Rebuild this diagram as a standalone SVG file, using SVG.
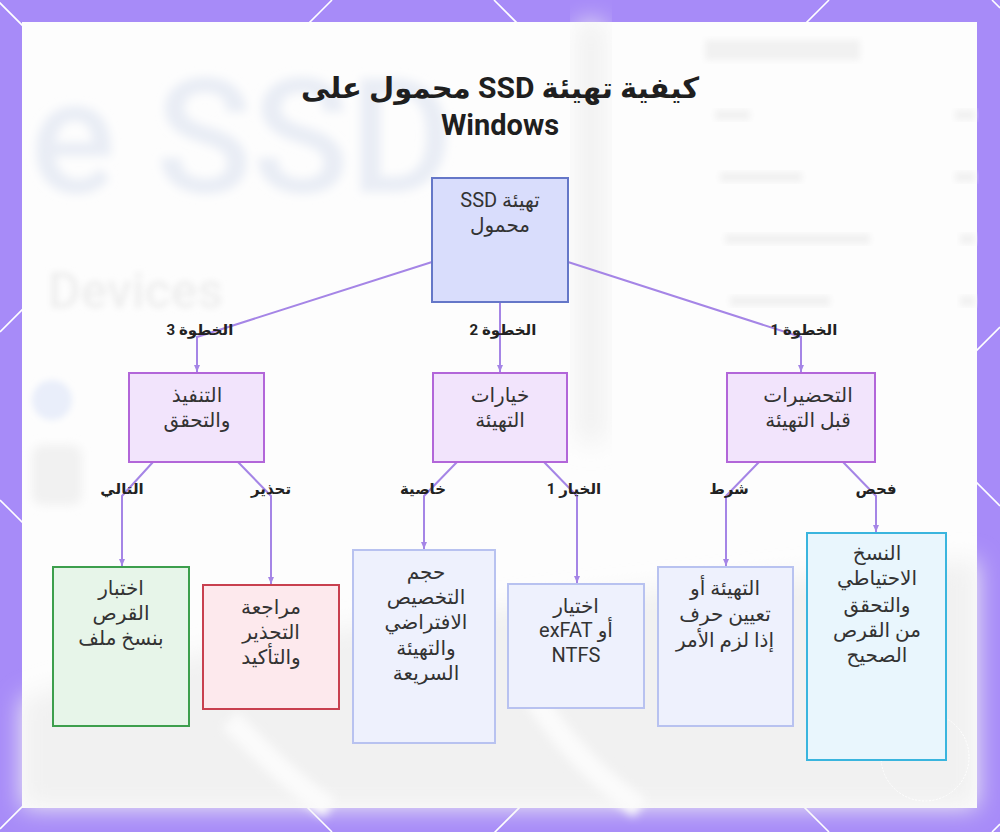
<svg xmlns="http://www.w3.org/2000/svg" width="1000" height="832" viewBox="0 0 1000 832">
<defs>
<style>
.frame{fill:#a78bf8}
.deco{stroke:#ffffff;stroke-width:1.6;fill:none}
.title{font-family:Roboto,"Noto Sans","DejaVu Sans",sans-serif;font-weight:700;font-size:29px;fill:#1f1f1f;text-anchor:middle}
.nt{font-family:Roboto,"Noto Sans","DejaVu Sans",sans-serif;font-size:20px;fill:#333333;text-anchor:middle}
.el{font-family:Roboto,"Noto Sans","DejaVu Sans",sans-serif;font-weight:700;font-size:15px;fill:#222222;text-anchor:middle}
.edge{fill:none;stroke:#a585e6;stroke-width:2;marker-end:url(#arr)}
.root{fill:#d9ddfc;stroke:#6577c8;stroke-width:2}
.mid{fill:#f2e4fc;stroke:#b266d9;stroke-width:2}
.green{fill:#e7f5e9;stroke:#3d9f4d;stroke-width:2}
.red{fill:#fde9ed;stroke:#c8404f;stroke-width:2}
.blue{fill:#eef1fd;stroke:#b8c2f0;stroke-width:2}
.cyan{fill:#e9f6fd;stroke:#3ab5de;stroke-width:2}
.bgt{font-family:Roboto,"Liberation Sans",sans-serif;font-weight:500}
.bar{fill:#f1f1f1}
</style>
<marker id="arr" markerUnits="userSpaceOnUse" markerWidth="8" markerHeight="8" refX="7" refY="4" orient="auto">
<path d="M0,1 L7,4 L0,7 z" fill="#a585e6"/>
</marker>
<filter id="blur6" x="-20%" y="-20%" width="140%" height="140%"><feGaussianBlur stdDeviation="5"/></filter>
<filter id="blur3" x="-20%" y="-20%" width="140%" height="140%"><feGaussianBlur stdDeviation="3"/></filter>
<filter id="blur12" x="-30%" y="-30%" width="160%" height="160%"><feGaussianBlur stdDeviation="12"/></filter>
</defs>

<!-- frame -->
<rect class="frame" x="0" y="0" width="1000" height="832"/>
<g class="deco">
<line x1="332" y1="0" x2="0" y2="332"/>
<line x1="0" y1="500" x2="332" y2="832"/>
<line x1="494" y1="0" x2="1000" y2="506"/>
<line x1="1000" y1="327" x2="494" y2="833"/>
<line x1="829" y1="0" x2="0" y2="829"/>
<line x1="-3" y1="0" x2="829" y2="832"/>
<line x1="992" y1="0" x2="1000" y2="8"/>
<line x1="992" y1="832" x2="1000" y2="824"/>
</g>

<!-- panel with blurred background -->
<rect x="22" y="22" width="955" height="786" fill="#fdfdfd"/>
<g id="background">
<rect x="578" y="22" width="26" height="420" fill="#f0f0f0" filter="url(#blur12)"/>
<text class="bgt" x="30" y="192" font-size="160" fill="#e9edf5" filter="url(#blur6)">e SSD</text>
<text class="bgt" x="48" y="308" font-size="50" font-weight="700" fill="#eeeeee" filter="url(#blur3)">Devices</text>
<circle cx="52" cy="400" r="20" fill="#e9eefa" filter="url(#blur3)"/>
<rect x="32" y="445" width="50" height="60" rx="10" fill="#f1f1f1" filter="url(#blur6)"/>
<rect class="bar" x="705" y="40" width="155" height="20" filter="url(#blur3)"/>
<rect class="bar" x="715" y="110" width="35" height="10" filter="url(#blur3)"/>
<rect class="bar" x="720" y="172" width="82" height="10" filter="url(#blur3)"/>
<rect class="bar" x="725" y="234" width="145" height="10" filter="url(#blur3)"/>
<rect class="bar" x="730" y="296" width="100" height="10" filter="url(#blur3)"/>
<rect class="bar" x="955" y="110" width="20" height="10" filter="url(#blur3)"/>
<rect class="bar" x="955" y="172" width="20" height="10" filter="url(#blur3)"/>
<rect class="bar" x="960" y="234" width="15" height="10" filter="url(#blur3)"/>
<rect class="bar" x="960" y="296" width="15" height="10" filter="url(#blur3)"/>
<path d="M22,700 C200,640 500,600 977,560 L977,808 L22,808 Z" fill="#f1f1f1" filter="url(#blur12)"/>
<path d="M230,720 C270,760 300,790 330,808" stroke="#fbfbfb" stroke-width="22" fill="none" filter="url(#blur6)"/>
<path d="M530,690 C560,740 600,780 640,808" stroke="#fbfbfb" stroke-width="22" fill="none" filter="url(#blur6)"/>
<circle cx="925" cy="757" r="44" fill="none" stroke="#ffffff" stroke-width="1" stroke-dasharray="2 1.5"/>
<rect x="912" y="738" width="20" height="22" rx="3" fill="none" stroke="#ffffff" stroke-width="1"/>
</g>

<!-- title -->
<g id="title">
<text class="title" x="500" y="98" direction="rtl">كيفية تهيئة <tspan font-size="30">SSD</tspan> محمول على</text>
<text class="title" x="500" y="135" font-size="33">Windows</text>
</g>

<!-- connectors -->
<g id="connectors">
<polyline class="edge" points="432,262 197,337 197,372"/>
<polyline class="edge" points="500,302 500,372"/>
<polyline class="edge" points="568,262 801,337 801,372"/>
<polyline class="edge" points="153,462 122,496 122,566"/>
<polyline class="edge" points="238,462 271,496 271,584"/>
<polyline class="edge" points="457,462 424,496 424,549"/>
<polyline class="edge" points="544,462 577,496 577,583"/>
<polyline class="edge" points="759,462 726,496 726,566"/>
<polyline class="edge" points="843,462 876,496 876,532"/>
<g id="edge-labels">
<text class="el" x="200" y="335" direction="rtl">الخطوة 3</text>
<text class="el" x="503" y="335" direction="rtl">الخطوة 2</text>
<text class="el" x="804" y="335" direction="rtl">الخطوة 1</text>
<text class="el" x="122" y="494" direction="rtl">التالي</text>
<text class="el" x="271" y="494" direction="rtl">تحذير</text>
<text class="el" x="423" y="494" direction="rtl">خاصية</text>
<text class="el" x="574" y="494" direction="rtl">الخيار 1</text>
<text class="el" x="729" y="494" direction="rtl">شرط</text>
<text class="el" x="876" y="494" direction="rtl">فحص</text>
</g>
</g>

<!-- nodes -->
<g id="root">
<rect class="root" x="432" y="178" width="136" height="124"/>
<text class="nt" x="500" y="207" direction="rtl">تهيئة SSD</text>
<text class="nt" x="500" y="232" direction="rtl">محمول</text>
</g>
<g id="step3">
<rect class="mid" x="129" y="373" width="135" height="89"/>
<text class="nt" x="197" y="402" direction="rtl">التنفيذ</text>
<text class="nt" x="197" y="427" direction="rtl">والتحقق</text>
</g>
<g id="step2">
<rect class="mid" x="433" y="373" width="134" height="89"/>
<text class="nt" x="500" y="402" direction="rtl">خيارات</text>
<text class="nt" x="500" y="427" direction="rtl">التهيئة</text>
</g>
<g id="step1">
<rect class="mid" x="727" y="373" width="148" height="89"/>
<text class="nt" x="808" y="402" direction="rtl">التحضيرات</text>
<text class="nt" x="808" y="427" direction="rtl">قبل التهيئة</text>
</g>
<g id="test">
<rect class="green" x="53" y="567" width="136" height="159"/>
<text class="nt" x="121" y="595" direction="rtl">اختبار</text>
<text class="nt" x="121" y="620" direction="rtl">القرص</text>
<text class="nt" x="121" y="645" direction="rtl">بنسخ ملف</text>
</g>
<g id="warning">
<rect class="red" x="203" y="585" width="136" height="124"/>
<text class="nt" x="271" y="614" direction="rtl">مراجعة</text>
<text class="nt" x="271" y="639" direction="rtl">التحذير</text>
<text class="nt" x="271" y="664" direction="rtl">والتأكيد</text>
</g>
<g id="allocation">
<rect class="blue" x="353" y="550" width="142" height="193"/>
<text class="nt" x="426" y="579" direction="rtl">حجم</text>
<text class="nt" x="426" y="604" direction="rtl">التخصيص</text>
<text class="nt" x="426" y="629" direction="rtl">الافتراضي</text>
<text class="nt" x="426" y="655" direction="rtl">والتهيئة</text>
<text class="nt" x="426" y="680" direction="rtl">السريعة</text>
</g>
<g id="filesystem">
<rect class="blue" x="508" y="584" width="136" height="124"/>
<text class="nt" x="576" y="613" direction="rtl">اختيار</text>
<text class="nt" x="576" y="637" direction="rtl">أو exFAT</text>
<text class="nt" x="576" y="662" direction="rtl">NTFS</text>
</g>
<g id="letter">
<rect class="blue" x="658" y="567" width="135" height="159"/>
<text class="nt" x="725" y="595" direction="rtl">التهيئة أو</text>
<text class="nt" x="725" y="621" direction="rtl">تعيين حرف</text>
<text class="nt" x="725" y="647" direction="rtl">إذا لزم الأمر</text>
</g>
<g id="backup">
<rect class="cyan" x="807" y="533" width="139" height="227"/>
<text class="nt" x="877" y="560" direction="rtl">النسخ</text>
<text class="nt" x="877" y="585" direction="rtl">الاحتياطي</text>
<text class="nt" x="877" y="612" direction="rtl">والتحقق</text>
<text class="nt" x="877" y="637" direction="rtl">من القرص</text>
<text class="nt" x="877" y="662" direction="rtl">الصحيح</text>
</g>
</svg>
